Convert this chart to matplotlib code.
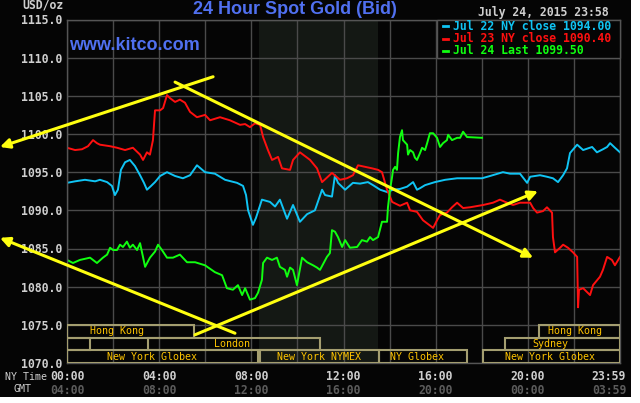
import matplotlib
matplotlib.use('Agg')
import matplotlib.pyplot as plt
from matplotlib.patches import Rectangle
from matplotlib.transforms import blended_transform_factory
import numpy as np

# ---------------- data ----------------
jul22_hours = [0, 0.35, 0.78, 1.22, 1.43, 1.74, 1.95, 2.08, 2.21, 2.34, 2.52, 2.73, 2.95, 3.17,
               3.34, 3.47, 3.65, 3.82, 4.04, 4.34, 4.69, 5.03, 5.34, 5.64, 5.99, 6.42, 6.86, 7.38,
               7.64, 7.77, 7.86, 8.07, 8.20, 8.46, 8.81, 9.03, 9.24, 9.55, 9.81, 10.11, 10.42, 10.76,
               11.07, 11.20, 11.50, 11.63, 11.76, 12.07, 12.41, 12.72, 13.06, 13.28, 13.59, 13.89,
               14.15, 14.45, 14.76, 15.02, 15.19, 15.32, 15.54, 15.97, 16.41, 16.93, 17.49, 18.01,
               18.36, 18.92, 19.23, 19.66, 19.97, 20.10, 20.53, 20.83, 21.09, 21.31, 21.53, 21.70,
               21.83, 22.14, 22.40, 22.79, 23.00, 23.26, 23.44, 23.57, 23.78, 24.00]
jul22_prices = [1093.6, 1093.8, 1094.0, 1093.8, 1094.0, 1093.7, 1093.2, 1092.0, 1092.7, 1095.3,
                1096.3, 1096.6, 1095.8, 1094.6, 1093.6, 1092.7, 1093.2, 1093.7, 1094.5, 1095.0,
                1094.5, 1094.2, 1094.6, 1095.9, 1095.0, 1094.8, 1094.0, 1093.6, 1093.2, 1092.0,
                1090.0, 1088.1, 1089.0, 1091.4, 1091.1, 1090.5, 1091.4, 1088.9, 1090.7, 1088.5,
                1089.5, 1090.0, 1092.7, 1092.0, 1091.8, 1094.6, 1093.6, 1092.7, 1093.6, 1093.5,
                1093.7, 1093.3, 1092.7, 1092.4, 1092.7, 1092.8, 1093.1, 1093.7, 1092.7, 1092.9,
                1093.3, 1093.7, 1094.0, 1094.2, 1094.2, 1094.2, 1094.5, 1095.0, 1094.8, 1094.8,
                1093.6, 1094.4, 1094.6, 1094.4, 1094.2, 1093.7, 1094.6, 1095.5, 1097.5, 1098.6,
                1097.9, 1098.3, 1097.6, 1098.0, 1098.3, 1098.8, 1098.2, 1097.6]

jul23_hours = [0, 0.35, 0.65, 0.91, 1.13, 1.30, 1.43, 1.87, 2.17, 2.52, 2.86, 3.17, 3.30, 3.47,
               3.60, 3.73, 3.82, 4.04, 4.17, 4.34, 4.47, 4.69, 4.90, 5.12, 5.34, 5.64, 5.99, 6.21,
               6.64, 7.07, 7.51, 7.73, 7.94, 8.16, 8.38, 8.51, 8.72, 8.90, 9.16, 9.33, 9.68, 9.81,
               10.11, 10.33, 10.55, 10.85, 11.07, 11.50, 11.85, 12.15, 12.41, 12.63, 13.24, 13.50,
               13.67, 13.89, 14.11, 14.45, 14.76, 14.89, 15.19, 15.45, 15.89, 16.06, 16.19, 16.49,
               16.71, 16.93, 17.19, 17.49, 18.06, 18.49, 18.79, 19.10, 19.36, 19.66, 20.10, 20.23,
               20.40, 20.66, 20.83, 21.05, 21.09, 21.18, 21.40, 21.53, 21.74, 21.96, 22.14, 22.18,
               22.22, 22.40, 22.70, 22.83, 23.13, 23.26, 23.44, 23.65, 23.78, 24.00]
jul23_prices = [1098.2, 1097.9, 1098.0, 1098.4, 1099.2, 1098.8, 1098.6, 1098.4, 1098.2, 1097.9,
                1098.2, 1097.3, 1096.6, 1097.6, 1097.3, 1099.2, 1103.1, 1103.1, 1103.4, 1105.1,
                1104.7, 1104.2, 1104.5, 1104.1, 1102.9, 1102.2, 1102.5, 1101.8, 1102.2, 1101.8,
                1101.2, 1101.3, 1100.9, 1101.4, 1101.2, 1099.6, 1097.9, 1096.6, 1097.0, 1095.5,
                1095.3, 1096.6, 1097.6, 1097.1, 1096.6, 1095.5, 1093.7, 1094.9, 1094.0, 1094.2,
                1094.6, 1095.9, 1095.5, 1095.3, 1095.0, 1092.7, 1091.1, 1090.6, 1091.0, 1090.0,
                1089.8, 1088.7, 1087.7, 1088.7, 1089.4, 1089.7, 1090.4, 1091.0, 1090.3, 1090.4,
                1090.7, 1091.0, 1091.4, 1091.0, 1090.7, 1091.0, 1091.0, 1090.3, 1089.7, 1089.9,
                1090.4, 1089.7, 1086.5, 1084.5, 1085.1, 1085.5, 1085.1, 1084.5, 1083.9, 1077.3,
                1079.6, 1079.8, 1078.9, 1080.2, 1081.3, 1082.2, 1083.9, 1083.5, 1082.8, 1083.9]

jul24_hours = [0, 0.26, 0.56, 1.00, 1.30, 1.56, 1.74, 1.87, 2.00, 2.17, 2.30, 2.43, 2.60, 2.73,
               2.86, 3.04, 3.17, 3.39, 3.60, 3.82, 3.95, 4.12, 4.34, 4.60, 4.90, 5.21, 5.56, 5.99,
               6.42, 6.73, 6.94, 7.20, 7.42, 7.60, 7.73, 7.94, 8.16, 8.29, 8.46, 8.51, 8.68, 8.90,
               9.11, 9.24, 9.46, 9.55, 9.68, 9.81, 9.98, 10.20, 10.42, 10.68, 10.85, 10.98, 11.28,
               11.41, 11.50, 11.63, 11.76, 11.94, 12.07, 12.28, 12.59, 12.80, 13.02, 13.15, 13.28,
               13.50, 13.67, 13.89, 13.93, 14.02, 14.11, 14.15, 14.24, 14.32, 14.37, 14.45, 14.54,
               14.58, 14.76, 14.80, 14.89, 15.02, 15.10, 15.19, 15.32, 15.41, 15.54, 15.63, 15.75,
               15.89, 16.06, 16.19, 16.32, 16.49, 16.54, 16.71, 16.93, 17.06, 17.19, 17.36, 18.01]
jul24_prices = [1083.5, 1083.1, 1083.5, 1083.8, 1083.1, 1083.8, 1084.2, 1085.1, 1084.8, 1084.8,
                1085.5, 1085.2, 1085.9, 1085.1, 1085.5, 1084.8, 1085.7, 1082.6, 1083.8, 1084.6,
                1085.5, 1084.8, 1083.8, 1083.8, 1084.2, 1083.2, 1083.2, 1082.8, 1081.9, 1081.5,
                1079.8, 1079.6, 1080.2, 1078.9, 1079.8, 1078.3, 1078.5, 1079.2, 1080.9, 1083.1,
                1083.8, 1083.5, 1083.8, 1082.6, 1082.2, 1081.3, 1082.5, 1082.2, 1080.2, 1083.8,
                1083.2, 1082.8, 1082.5, 1082.2, 1083.9, 1084.4, 1087.4, 1087.2, 1086.5, 1085.2,
                1086.1, 1085.1, 1085.2, 1086.1, 1085.9, 1086.5, 1086.1, 1086.5, 1088.5, 1088.5,
                1090.4, 1092.7, 1094.4, 1095.3, 1095.7, 1095.3, 1097.5, 1099.6, 1100.5, 1099.2,
                1098.6, 1097.3, 1097.9, 1097.6, 1096.9, 1096.6, 1097.5, 1098.2, 1097.9, 1098.8,
                1100.1, 1100.1, 1099.5, 1098.3, 1098.8, 1099.2, 1099.9, 1099.2, 1099.5, 1099.5,
                1100.3, 1099.6, 1099.5]

y_ticks = [1070, 1075, 1080, 1085, 1090, 1095, 1100, 1105, 1110, 1115]
grid_hours = list(range(0, 25, 2))
time_hours = [0, 4, 8, 12, 16, 20, 23.52]
ny_labels = ['00:00', '04:00', '08:00', '12:00', '16:00', '20:00', '23:59']
gmt_labels = ['04:00', '08:00', '12:00', '16:00', '20:00', '00:00', '03:59']

legend_labels = ['Jul 22 NY close 1094.00', 'Jul 23 NY close 1090.40', 'Jul 24 Last 1099.50']

nymex_span = (8.33, 13.5)

# sessions: row, start hour, end hour, label, label hour
sessions = [
    (0, 0.0, 5.5, 'Hong Kong', 2.17),
    (0, 20.5, 24.0, 'Hong Kong', 22.05),
    (1, 0.0, 1.0, '', 0.5),
    (1, 3.5, 11.0, 'London', 7.16),
    (1, 19.0, 24.0, 'Sydney', 20.96),
    (2, 0.0, 8.29, 'New York Globex', 3.69),
    (2, 8.38, 13.54, 'New York NYMEX', 10.92),
    (2, 13.54, 17.35, 'NY Globex', 15.19),
    (2, 18.05, 24.0, 'New York Globex', 20.96),
]

# hand-drawn trend arrows: (tail hour, tail price), (tip hour, tip price)
arrows = [
    ((6.34, 1107.5), (-2.91, 1098.3)),
    ((4.69, 1106.8), (20.23, 1083.8)),
    ((7.29, 1073.9), (-2.91, 1086.4)),
    ((5.56, 1073.7), (20.44, 1092.5)),
]

# ---------------- figure ----------------
W, H = 640, 403
fig = plt.figure(figsize=(6.4, 4.03), dpi=100)
fig.patch.set_facecolor('white')
fig.add_artist(Rectangle((0, 6 / H), 631 / W, 397 / H, transform=fig.transFigure,
                         facecolor='#050505', edgecolor='none', zorder=-10))

ax = fig.add_axes([67 / W, 1 - 363 / H, (620 - 67) / W, (363 - 19.5) / H])
ax.set_facecolor('#050505')
ax.set_xlim(0, 24)
ax.set_ylim(1070, 1115)

ax.axvspan(*nymex_span, color='#141814', lw=0, zorder=0.1)

ax.set_xticks(grid_hours)
ax.set_xticklabels([])
ax.set_yticks(y_ticks)
ax.set_yticklabels([f'{v:.1f}' for v in y_ticks])
ax.tick_params(axis='both', length=0)
ax.tick_params(axis='y', pad=3.6, labelsize=8.3, labelcolor='#cfcfcf')
for lab in ax.get_yticklabels():
    lab.set_fontfamily('DejaVu Sans Mono')
    lab.set_fontweight('bold')
ax.set_axisbelow(True)
ax.grid(True, color='#4a4a4a', lw=1)
for s in ax.spines.values():
    s.set_color('#555555')
    s.set_linewidth(1)

ax.plot(jul22_hours, jul22_prices, color='#10c4f4', lw=1.4, zorder=2)
ax.plot(jul23_hours, jul23_prices, color='#ff1010', lw=1.4, zorder=2)
ax.plot(jul24_hours, jul24_prices, color='#10ff10', lw=1.4, zorder=2)

# session boxes
row_h = 5 / 3
for row, s0, s1, lab, lh in sessions:
    top = 1075 - row * row_h
    ax.add_patch(Rectangle((s0, top - row_h), s1 - s0, row_h, fill=False,
                           edgecolor='#a49e70', lw=1.5, zorder=3))
    if lab:
        ax.text(lh, top - row_h / 2, lab, ha='center', va='center', color='#ffc400',
                fontsize=7.2, family='DejaVu Sans Mono', zorder=3.5)

# arrows
for tail, tip in arrows:
    ax.annotate('', xy=tip, xytext=tail, annotation_clip=False,
                arrowprops=dict(arrowstyle='-|>,head_length=0.7,head_width=0.35',
                                color='#ffff10', lw=2.2, shrinkA=0, shrinkB=0,
                                mutation_scale=8, clip_on=False),
                zorder=4)

# x labels
trans = blended_transform_factory(ax.transData, fig.transFigure)
for h, ny, g in zip(time_hours, ny_labels, gmt_labels):
    ax.text(h, 1 - 376 / H, ny, transform=trans, ha='center', va='center', color='#cfcfcf',
            fontsize=8.3, family='DejaVu Sans Mono', fontweight='bold', clip_on=False)
    ax.text(h, 1 - 391 / H, g, transform=trans, ha='center', va='center', color='#5c5c5c',
            fontsize=8.3, family='DejaVu Sans Mono', fontweight='bold', clip_on=False)

def ftext(x, y, s, **kw):
    fig.text(x / W, 1 - y / H, s, **kw)

ftext(5, 377, 'NY Time', ha='left', va='center', color='#cfcfcf', fontsize=7.2,
      family='DejaVu Sans Mono')
ftext(13, 389, 'GMT', ha='left', va='center', color='#cfcfcf', fontsize=7.2,
      family='DejaVu Sans Mono')
ftext(22, 5.5, 'USD/oz', ha='left', va='center', color='#cfcfcf', fontsize=8.3,
      family='DejaVu Sans Mono', fontweight='bold')
ftext(609, 12.5, 'July 24, 2015 23:58', ha='right', va='center', color='#cfcfcf', fontsize=8.3,
      family='DejaVu Sans Mono', fontweight='bold')
ftext(295, 9, '24 Hour Spot Gold (Bid)', ha='center', va='center', color='#5070f0',
      fontsize=13, family='Liberation Sans', fontweight='bold')
ftext(69, 45, 'www.kitco.com', ha='left', va='center', color='#5070f0',
      fontsize=13, family='Liberation Sans', fontweight='bold', zorder=5)

# legend box
fig.add_artist(Rectangle((437 / W, 1 - 58 / H), (620 - 437) / W, (58 - 19.5) / H,
                         transform=fig.transFigure, facecolor='#050505',
                         edgecolor='#555555', lw=1, zorder=5))
leg_colors = ['#10c4f4', '#ff1010', '#10ff10']
for i, (lab, c) in enumerate(zip(legend_labels, leg_colors)):
    y = 26 + i * 12.5
    fig.add_artist(plt.Line2D([443 / W, 448 / W], [1 - y / H, 1 - y / H], color=c, lw=2,
                              transform=fig.transFigure, zorder=6))
    ftext(453, y, lab, ha='left', va='center', color=c, fontsize=8.3,
          family='DejaVu Sans Mono', fontweight='bold', zorder=6)

fig.savefig('out.png', dpi=100, facecolor=fig.get_facecolor())
